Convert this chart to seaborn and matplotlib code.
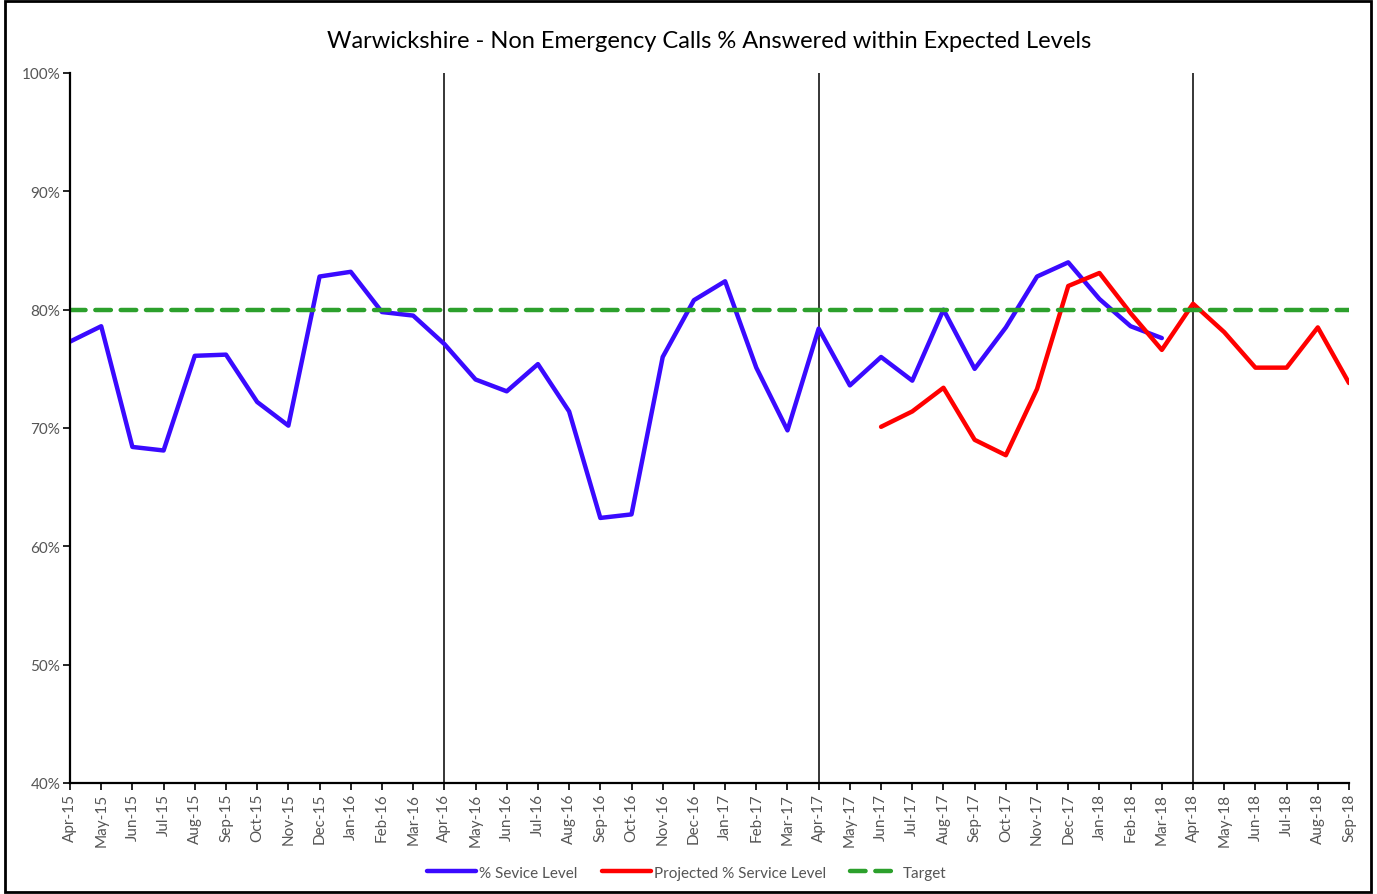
import matplotlib
matplotlib.use("Agg")
import matplotlib.pyplot as plt
from matplotlib.patches import Rectangle
import numpy as np
import pandas as pd
import seaborn as sns

months = [
    "Apr-15", "May-15", "Jun-15", "Jul-15", "Aug-15", "Sep-15", "Oct-15", "Nov-15",
    "Dec-15", "Jan-16", "Feb-16", "Mar-16", "Apr-16", "May-16", "Jun-16", "Jul-16",
    "Aug-16", "Sep-16", "Oct-16", "Nov-16", "Dec-16", "Jan-17", "Feb-17", "Mar-17",
    "Apr-17", "May-17", "Jun-17", "Jul-17", "Aug-17", "Sep-17", "Oct-17", "Nov-17",
    "Dec-17", "Jan-18", "Feb-18", "Mar-18", "Apr-18", "May-18", "Jun-18", "Jul-18",
    "Aug-18", "Sep-18",
]

# % Service level, Apr-15 .. Mar-18
service_level = [
    77.3, 78.6, 68.4, 68.1, 76.1, 76.2, 72.2, 70.2, 82.8, 83.2, 79.8, 79.5,
    77.1, 74.1, 73.1, 75.4, 71.4, 62.4, 62.7, 76.0, 80.8, 82.4, 75.1, 69.8,
    78.4, 73.6, 76.0, 74.0, 80.0, 75.0, 78.5, 82.8, 84.0, 80.9, 78.6, 77.6,
]

# Projected % service level, Jun-17 .. Sep-18
projected_months = months[26:]
projected_level = [
    70.1, 71.4, 73.4, 69.0, 67.7, 73.3, 82.0, 83.1, 79.7, 76.6,
    80.5, 78.1, 75.1, 75.1, 78.5, 73.8,
]

target = 80.0
year_starts = ["Apr-15", "Apr-16", "Apr-17", "Apr-18"]

pos = {m: i for i, m in enumerate(months)}
df_service = pd.DataFrame({"x": [pos[m] for m in months[:len(service_level)]],
                           "y": service_level})
df_proj = pd.DataFrame({"x": [pos[m] for m in projected_months],
                        "y": projected_level})
df_target = pd.DataFrame({"x": list(range(len(months))), "y": [target] * len(months)})

sns.set_theme(style="white")
plt.rcParams["font.family"] = ["Lato", "DejaVu Sans"]

fig = plt.figure(figsize=(13.77, 8.95), dpi=100)
ax = fig.add_axes([70 / 1377, 1 - 784 / 895, (1349 - 70) / 1377, (784 - 74) / 895])

sns.lineplot(data=df_service, x="x", y="y", ax=ax, color="#3a0aff", linewidth=3.2,
             label="% Sevice Level")
sns.lineplot(data=df_proj, x="x", y="y", ax=ax, color="#ff0000", linewidth=3.2,
             label="Projected % Service Level")
sns.lineplot(data=df_target, x="x", y="y", ax=ax, color="#2ca02c", linewidth=3.2,
             linestyle=(0, (3.5, 2.2)), dash_capstyle="round", label="Target")

for m in year_starts:
    ax.axvline(pos[m], color="black", linewidth=1.1, zorder=0)

ax.set_xlim(0, len(months) - 1)
ax.set_ylim(40, 100)
ax.set_xticks(range(len(months)))
ax.set_xticklabels(months, rotation=90, fontsize=11, color="#555555")
ax.set_yticks(range(40, 101, 10))
ax.set_yticklabels([f"{v}%" for v in range(40, 101, 10)], fontsize=11, color="#555555")
ax.set_xlabel("")
ax.set_ylabel("")

for side in ["top", "right"]:
    ax.spines[side].set_visible(False)
for side in ["left", "bottom"]:
    ax.spines[side].set_color("black")
    ax.spines[side].set_linewidth(1.6)

ax.tick_params(axis="both", which="major", direction="out", length=5, width=1.2,
               color="black", bottom=True, left=True, pad=2)

ax.set_title("Warwickshire - Non Emergency Calls % Answered within Expected Levels",
             fontsize=17, color="black", pad=19)

leg = ax.legend(loc="upper center", bbox_to_anchor=(0.482, -0.097), ncol=3, frameon=False,
                fontsize=11, handlelength=3.2, columnspacing=1.6, handletextpad=0.2)
for t in leg.get_texts():
    t.set_color("#555555")

fig.patches.append(Rectangle((5 / 1377, 2 / 895), 1366 / 1377, 891 / 895,
                             transform=fig.transFigure, fill=False,
                             edgecolor="black", linewidth=2))

fig.savefig("out.png", dpi=100)
